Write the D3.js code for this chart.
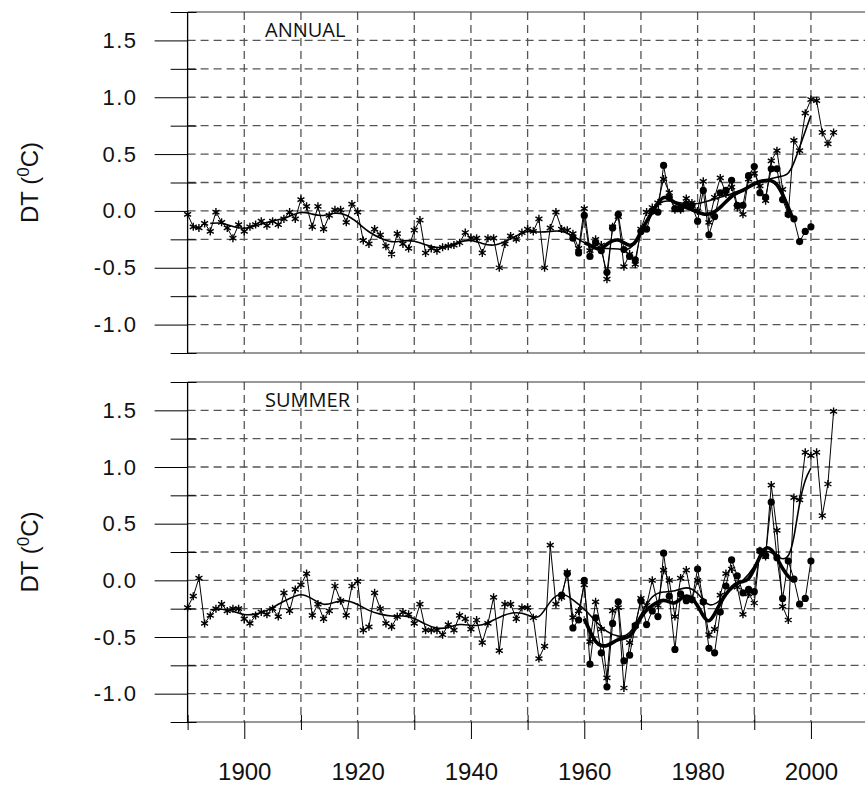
<!DOCTYPE html>
<html>
<head>
<meta charset="utf-8">
<script src="https://cdn.jsdelivr.net/npm/d3@7"></script>
<style>
  body { margin: 0; background: #fff; }
  svg { display: block; }
  .grid line { stroke: #555; stroke-width: 1.3; stroke-dasharray: 8 5; }
  .frame { stroke: #333; stroke-width: 1.2; }
  .tick text { font-family: "Liberation Sans", Arial, sans-serif; }
</style>
</head>
<body>
<div id="chart"></div>
<script>
// Annual series (asterisks), 1890-2004
const annual_start = 1890;
const annual_a = [-0.03,-0.14,-0.15,-0.11,-0.18,-0.01,-0.10,-0.15,-0.24,-0.12,
  -0.18,-0.14,-0.12,-0.09,-0.13,-0.09,-0.12,-0.07,-0.01,-0.07,
  0.10,0.04,-0.14,0.04,-0.16,-0.04,0.01,0.01,-0.10,0.06,
  -0.01,-0.26,-0.29,-0.16,-0.21,-0.31,-0.38,-0.20,-0.29,-0.33,
  -0.17,-0.08,-0.37,-0.33,-0.35,-0.32,-0.31,-0.30,-0.28,-0.19,
  -0.24,-0.24,-0.37,-0.24,-0.24,-0.50,-0.29,-0.22,-0.25,-0.19,
  -0.16,-0.18,-0.07,-0.50,-0.15,-0.01,-0.16,-0.17,-0.20,-0.33,
  0.02,-0.35,-0.25,-0.30,-0.60,-0.14,-0.05,-0.49,-0.38,-0.47,
  -0.16,-0.01,0.03,0.07,0.28,0.16,0.01,0.01,0.11,0.07,
  0.00,0.26,-0.10,0.12,0.29,0.15,0.21,0.03,-0.03,0.28,
  0.33,0.22,0.09,0.44,0.53,0.19,-0.03,0.62,0.53,0.86,
  0.98,0.97,0.69,0.59,0.69];
// Annual second series (dots), 1958-2000
const annual_b_start = 1958;
const annual_b = [-0.24,-0.37,-0.04,-0.40,-0.28,-0.35,-0.54,-0.15,-0.03,-0.34,
  -0.40,-0.43,-0.18,-0.16,0.00,-0.01,0.40,0.12,0.02,0.02,
  0.06,0.05,-0.09,0.18,-0.21,-0.05,0.16,0.18,0.27,0.05,
  0.05,0.31,0.39,0.16,0.12,0.37,0.37,0.10,-0.03,-0.07,
  -0.27,-0.18,-0.14];
// Smoothed curves
const annual_a_smooth_years = [1894,1896,1898,1900,1902,1904,1906,1908,1910,1912,1914,1916,1918,1920,
  1922,1924,1926,1928,1930,1932,1934,1936,1938,1940,1942,1944,1946,1948,1950,1952,1954,1956,1958,
  1960,1962,1964,1966,1968,1970,1972,1974,1976,1978,1980,1982,1984,1986,1988,1990,1992,1994,1996,
  1997,1998,1999,2000];
const annual_a_smooth = [-0.11,-0.10,-0.14,-0.16,-0.13,-0.10,-0.08,-0.05,0.00,-0.03,-0.05,-0.01,-0.03,-0.10,
  -0.19,-0.24,-0.28,-0.26,-0.26,-0.30,-0.33,-0.31,-0.27,-0.25,-0.29,-0.31,-0.27,-0.22,-0.17,-0.19,-0.18,-0.17,-0.22,
  -0.28,-0.33,-0.33,-0.33,-0.36,-0.20,0.02,0.10,0.08,0.06,0.06,0.09,0.12,0.15,0.19,0.23,0.27,0.30,0.31,
  0.42,0.56,0.70,0.84];
const annual_b_smooth_start = 1960;
const annual_b_smooth = [-0.28,-0.30,-0.33,-0.34,-0.29,-0.26,-0.25,-0.28,-0.31,-0.29,
  -0.18,-0.09,-0.01,0.07,0.13,0.11,0.07,0.05,0.03,0.01,
  -0.01,-0.03,-0.03,-0.01,0.03,0.08,0.13,0.16,0.18,0.21,
  0.24,0.26,0.27,0.27,0.24,0.15,0.03,-0.09];

// Summer
const summer_start = 1890;
const summer_a = [-0.24,-0.14,0.02,-0.38,-0.31,-0.25,-0.21,-0.27,-0.25,-0.25,
  -0.34,-0.38,-0.31,-0.28,-0.30,-0.25,-0.32,-0.11,-0.27,-0.08,
  -0.04,0.06,-0.31,-0.21,-0.34,-0.27,-0.05,-0.18,-0.31,-0.05,
  -0.01,-0.44,-0.41,-0.11,-0.25,-0.38,-0.41,-0.32,-0.28,-0.30,
  -0.38,-0.21,-0.44,-0.44,-0.44,-0.48,-0.39,-0.44,-0.31,-0.34,
  -0.43,-0.35,-0.55,-0.38,-0.15,-0.62,-0.21,-0.21,-0.34,-0.24,
  -0.24,-0.33,-0.69,-0.58,0.31,-0.21,-0.15,0.07,-0.33,-0.27,
  -0.04,-0.54,-0.19,-0.43,-0.86,-0.27,-0.24,-0.95,-0.55,-0.40,
  -0.16,-0.22,0.00,-0.22,0.09,0.00,-0.32,0.02,0.09,-0.17,
  0.00,-0.19,-0.48,-0.43,-0.13,0.06,0.10,-0.06,-0.30,-0.12,
  -0.20,0.26,0.21,0.84,0.44,-0.23,-0.35,0.73,0.71,1.13,
  1.10,1.13,0.57,0.85,1.49];
const summer_b_start = 1956;
const summer_b = [-0.13,0.06,-0.42,-0.35,0.00,-0.74,-0.33,-0.64,-0.94,-0.38,
  -0.19,-0.71,-0.66,-0.40,-0.18,-0.39,-0.27,-0.32,0.24,-0.14,
  -0.61,-0.12,-0.18,-0.17,0.10,-0.19,-0.60,-0.64,-0.28,-0.05,
  0.18,0.04,-0.11,-0.08,-0.10,0.26,0.22,0.69,0.20,-0.16,
  0.17,0.01,-0.21,-0.16,0.17];
const summer_a_smooth_years = [1894,1896,1898,1900,1902,1904,1906,1908,1910,1912,1914,1916,1918,1920,
  1922,1924,1926,1928,1930,1932,1934,1936,1938,1940,1942,1944,1946,1948,1950,1952,1954,1956,1958,
  1960,1962,1964,1966,1968,1970,1972,1974,1976,1978,1980,1982,1984,1986,1988,1990,1992,1994,1996,
  1997,1998,1999,2000];
const summer_a_smooth = [-0.26,-0.25,-0.27,-0.31,-0.30,-0.27,-0.21,-0.16,-0.11,-0.16,-0.23,-0.19,-0.17,-0.21,
  -0.27,-0.30,-0.32,-0.31,-0.33,-0.39,-0.43,-0.42,-0.38,-0.40,-0.40,-0.35,-0.30,-0.28,-0.30,-0.36,-0.17,-0.10,-0.17,
  -0.25,-0.36,-0.46,-0.50,-0.49,-0.30,-0.12,-0.10,-0.10,-0.05,-0.10,-0.25,-0.18,-0.07,-0.01,0.11,0.30,0.20,0.17,
  0.36,0.70,0.90,0.99];
const summer_b_smooth_start = 1960;
const summer_b_smooth = [-0.34,-0.45,-0.55,-0.58,-0.58,-0.55,-0.52,-0.51,-0.50,-0.43,
  -0.32,-0.26,-0.22,-0.19,-0.17,-0.19,-0.21,-0.16,-0.13,-0.15,
  -0.22,-0.32,-0.38,-0.30,-0.20,-0.12,-0.06,-0.02,-0.01,0.00,
  0.10,0.21,0.30,0.28,0.20,0.10,0.03,-0.01];

const yTicks = [-1.0, -0.5, 0.0, 0.5, 1.0, 1.5];
const yMinor = [-1.25, -0.75, -0.25, 0.25, 0.75, 1.25, 1.75];
const xTicks = [1900, 1920, 1940, 1960, 1980, 2000];
const xMinor = [1890, 1910, 1930, 1950, 1970, 1990, 2010];

const width = 865, height = 787;
const svg = d3.select("#chart").append("svg")
    .attr("width", width)
    .attr("height", height);

const x = d3.scaleLinear().domain([1890, 2010]).range([187.6, 867.6]);

const toPts = (start, vals) => vals.map((v, i) => ({ year: start + i, v: v }));
const toPtsY = (years, vals) => vals.map((v, i) => ({ year: years[i], v: v }));

// hyphen minus like the original labels
const fmtY = d => d3.format(".1f")(d).replace("\u2212", "-");

const panels = [
  { name: "ANNUAL", top: 12, bottom: 353,
    a: toPts(annual_start, annual_a), b: toPts(annual_b_start, annual_b),
    as: toPtsY(annual_a_smooth_years, annual_a_smooth), bs: toPts(annual_b_smooth_start, annual_b_smooth) },
  { name: "SUMMER", top: 382, bottom: 722,
    a: toPts(summer_start, summer_a), b: toPts(summer_b_start, summer_b),
    as: toPtsY(summer_a_smooth_years, summer_a_smooth), bs: toPts(summer_b_smooth_start, summer_b_smooth) }
];

panels.forEach((p, pi) => {
  const y = d3.scaleLinear().domain([-1.25, 1.75]).range([p.bottom, p.top]);
  const g = svg.append("g");

  // dashed grid
  const grid = g.append("g").attr("class", "grid");
  grid.selectAll(".h")
    .data(d3.range(-1.0, 1.51, 0.25))
    .join("line")
      .attr("x1", x(1890)).attr("x2", width)
      .attr("y1", d => y(d)).attr("y2", d => y(d));
  grid.selectAll(".v")
    .data(d3.range(1900, 2011, 10))
    .join("line")
      .attr("x1", d => x(d)).attr("x2", d => x(d))
      .attr("y1", p.top).attr("y2", p.bottom);

  // frame top and bottom
  g.append("line").attr("class", "frame")
    .attr("x1", x(1890)).attr("x2", width).attr("y1", p.top).attr("y2", p.top);
  g.append("line").attr("class", "frame")
    .attr("x1", x(1890)).attr("x2", width).attr("y1", p.bottom).attr("y2", p.bottom);

  // y axis, long outside major ticks
  const yAxis = g.append("g")
      .attr("transform", `translate(${x(1890)},0)`)
      .call(d3.axisLeft(y).tickValues(yTicks).tickSize(33).tickFormat(fmtY));
  yAxis.select(".domain").remove();
  yAxis.selectAll(".tick line").attr("stroke", "#000").attr("stroke-width", 1);
  yAxis.selectAll(".tick text")
      .attr("x", -50)
      .attr("font-size", 22)
      .attr("letter-spacing", 1.5)
      .attr("fill", "#111");

  // minor ticks crossing the axis
  const yMin = g.append("g")
      .attr("transform", `translate(${x(1890)},0)`)
      .call(d3.axisLeft(y).tickValues(yMinor).tickSize(17).tickFormat(""));
  yMin.select(".domain").remove();
  yMin.selectAll(".tick line").attr("x2", -17).attr("x1", 9).attr("stroke", "#000");

  g.append("line")
    .attr("x1", x(1890)).attr("x2", x(1890))
    .attr("y1", p.top).attr("y2", p.bottom)
    .attr("stroke", "#000").attr("stroke-width", 1.3);

  // axis title
  const t = g.append("text")
      .attr("transform", `translate(38,${(p.top + p.bottom) / 2}) rotate(-90)`)
      .attr("text-anchor", "middle")
      .attr("font-family", "'Liberation Sans Narrow', 'Liberation Sans', sans-serif")
      .attr("font-size", 24)
      .attr("fill", "#111");
  t.append("tspan").text("DT (");
  t.append("tspan").attr("dy", -9).attr("font-size", 17).text("0");
  t.append("tspan").attr("dy", 9).text("C)");

  // panel label
  g.append("text")
      .attr("x", 265).attr("y", p.top + 25)
      .attr("font-family", "'Open Sans', sans-serif")
      .attr("font-size", 20)
      .attr("fill", "#111")
      .text(p.name);

  const line = d3.line().x(d => x(d.year)).y(d => y(d.v));
  const smooth = d3.line().x(d => x(d.year)).y(d => y(d.v)).curve(d3.curveBasis);

  // second series with dots
  g.append("path").datum(p.b)
      .attr("fill", "none").attr("stroke", "#000").attr("stroke-width", 1)
      .attr("d", line);
  g.append("g").selectAll("circle")
    .data(p.b)
    .join("circle")
      .attr("cx", d => x(d.year)).attr("cy", d => y(d.v))
      .attr("r", 3.6).attr("fill", "#000");

  // long series with asterisks
  g.append("path").datum(p.a)
      .attr("fill", "none").attr("stroke", "#000").attr("stroke-width", 1)
      .attr("d", line);
  g.append("g").selectAll("path")
    .data(p.a)
    .join("path")
      .attr("transform", d => `translate(${x(d.year)},${y(d.v)})`)
      .attr("d", d3.symbol(d3.symbolAsterisk, 45))
      .attr("fill", "none").attr("stroke", "#000").attr("stroke-width", 1.4);

  // smoothed curves
  g.append("path").datum(p.as)
      .attr("fill", "none").attr("stroke", "#000").attr("stroke-width", 1.6)
      .attr("d", smooth);
  g.append("path").datum(p.bs)
      .attr("fill", "none").attr("stroke", "#000").attr("stroke-width", 3.6)
      .attr("d", smooth);

  // x axis ticks on the lower panel
  if (pi === 1) {
    const xAxis = g.append("g")
        .attr("transform", `translate(0,${p.bottom})`)
        .call(d3.axisBottom(x).tickValues(xTicks).tickSize(17).tickFormat(d3.format("d")));
    xAxis.select(".domain").remove();
    xAxis.selectAll(".tick line").attr("stroke", "#000");
    xAxis.selectAll(".tick text")
        .attr("y", 41)
        .attr("dy", "0.71em")
        .attr("font-family", "'Liberation Sans Narrow', 'Liberation Sans', sans-serif")
        .attr("font-size", 24)
        .attr("fill", "#111");
    const xMin = g.append("g")
        .attr("transform", `translate(0,${p.bottom})`)
        .call(d3.axisBottom(x).tickValues(xMinor).tickSize(8).tickFormat(""));
    xMin.select(".domain").remove();
    xMin.selectAll(".tick line").attr("y1", -7).attr("y2", 8).attr("stroke", "#000");
  }
});
</script>
</body>
</html>
